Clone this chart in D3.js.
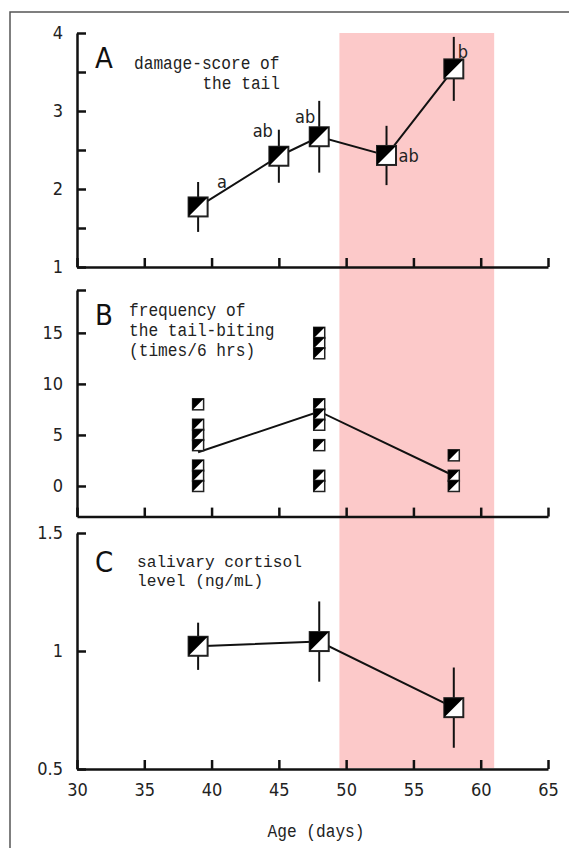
<!DOCTYPE html>
<meta charset="utf-8">
<style>
  body { margin: 0; background: #fff; }
  .tick text, .num { font-family: "Liberation Sans Narrow", "DejaVu Sans Condensed", sans-serif; font-size: 18px; fill: #222; }
  .mono { font-family: "Liberation Mono", "DejaVu Sans Mono", monospace; font-size: 18px; fill: #222; }
  .mono.tight { font-size: 16px; }
  .panel { font-family: "Liberation Sans Narrow", "DejaVu Sans Condensed", sans-serif; font-size: 29px; fill: #111; }
  .axis path, .axis line { stroke: #111; stroke-width: 2.5; fill: none; }
</style>
<body>
<script src="https://d3js.org/d3.v7.min.js"></script>
<script>
  // panel A: damage score of the tail
  var damageDays = [39, 45, 48, 53, 58]
  var damageMean = [1.77, 2.42, 2.67, 2.43, 3.54]
  var damageErr = [0.32, 0.34, 0.46, 0.38, 0.41]
  var damageLetters = ["a", "ab", "ab", "ab", "b"]

  // panel B: tail-biting counts (times / 6 hrs)
  var bitingDays = [39, 48, 58]
  var bitingCounts = [[8, 6, 5, 4, 2, 1, 0], [15, 14, 13, 8, 7, 6, 4, 1, 0], [3, 1, 0]]
  var bitingMean = [3.3, 7.3, 1.0]

  // panel C: salivary cortisol (ng/mL)
  var cortDays = [39, 48, 58]
  var cortMean = [1.02, 1.04, 0.76]
  var cortErr = [0.10, 0.17, 0.17]

  var xTicks = [30, 35, 40, 45, 50, 55, 60, 65]
  var shadeDays = [49.5, 61]

  var width = 569, height = 848
  var charW = 9.7

  var svg = d3.select("body").append("svg")
    .attr("width", width)
    .attr("height", height)

  // outer frame
  svg.append("rect")
    .attr("x", 10).attr("y", 12)
    .attr("width", 580).attr("height", 860)
    .attr("fill", "none").attr("stroke", "#555").attr("stroke-width", 1.5)

  var x = d3.scaleLinear().domain([30, 65]).range([77, 548])

  var yA = d3.scaleLinear().domain([1, 4]).range([267, 33])
  var yB = d3.scaleLinear().domain([-3, 19.2]).range([516.6, 290])
  var yC = d3.scaleLinear().domain([0.5, 1.5]).range([769, 533])

  // pink window
  svg.append("rect")
    .attr("x", x(shadeDays[0]))
    .attr("y", yA(4))
    .attr("width", x(shadeDays[1]) - x(shadeDays[0]))
    .attr("height", yC(0.5) - yA(4) - 1)
    .attr("fill", "#fcc9c9")

  function drawAxes(y, yTicks, yFmt, showX) {
    svg.append("g")
      .attr("class", "axis")
      .attr("transform", "translate(0," + y.range()[0] + ")")
      .call(d3.axisBottom(x).tickValues(xTicks).tickSizeInner(-9).tickSizeOuter(0)
        .tickPadding(14).tickFormat(showX ? d3.format("d") : ""))
    svg.append("g")
      .attr("class", "axis")
      .attr("transform", "translate(" + x(30) + ",0)")
      .call(d3.axisLeft(y).tickValues(yTicks).tickSizeInner(-9).tickSizeOuter(0)
        .tickPadding(14).tickFormat(yFmt))
  }

  drawAxes(yA, [1, 1.5, 2, 2.5, 3, 3.5, 4], function (d) { return d % 1 === 0 ? d : "" }, false)
  drawAxes(yB, [0, 5, 10, 15, 19.2], function (d) { return d % 5 === 0 ? d : "" }, false)
  drawAxes(yC, [0.5, 1, 1.5], function (d) { return d === 1 ? "1" : d3.format(".1f")(d) }, true)

  d3.selectAll(".axis").attr("font-family", null).attr("font-size", null)

  var line = d3.line()

  // square marker: white box, black upper-left half
  function marker(g, cx, cy, s, sw) {
    var h = s / 2
    g.append("rect")
      .attr("x", cx - h).attr("y", cy - h)
      .attr("width", s).attr("height", s)
      .attr("fill", "#fff").attr("stroke", "#222").attr("stroke-width", sw)
    g.append("path")
      .attr("d", "M" + (cx - h) + "," + (cy - h) + "H" + (cx + h) + "L" + (cx - h) + "," + (cy + h) + "Z")
      .attr("fill", "#000")
  }

  function meanPanel(days, means, errs, y) {
    var g = svg.append("g")
    days.forEach(function (d, i) {
      g.append("line")
        .attr("x1", x(d)).attr("x2", x(d))
        .attr("y1", y(means[i] + errs[i])).attr("y2", y(means[i] - errs[i]))
        .attr("stroke", "#111").attr("stroke-width", 2)
    })
    g.append("path")
      .attr("d", line(days.map(function (d, i) { return [x(d), y(means[i])] })))
      .attr("fill", "none").attr("stroke", "#111").attr("stroke-width", 2)
    days.forEach(function (d, i) { marker(g, x(d), y(means[i]), 19, 2) })
  }

  meanPanel(damageDays, damageMean, damageErr, yA)
  meanPanel(cortDays, cortMean, cortErr, yC)

  // letters for panel A
  var letterPos = [
    { dx: 19, dy: -19, anchor: "start" },
    { dx: -6, dy: -19, anchor: "end" },
    { dx: -4, dy: -14, anchor: "end" },
    { dx: 12, dy: 7, anchor: "start" },
    { dx: 4, dy: -11, anchor: "start" }
  ]
  damageLetters.forEach(function (t, i) {
    svg.append("text")
      .attr("class", "num")
      .attr("x", x(damageDays[i]) + letterPos[i].dx)
      .attr("y", yA(damageMean[i]) + letterPos[i].dy)
      .attr("text-anchor", letterPos[i].anchor)
      .text(t)
  })

  // panel B
  var gB = svg.append("g")
  gB.append("path")
    .attr("d", line(bitingDays.map(function (d, i) { return [x(d), yB(bitingMean[i])] })))
    .attr("fill", "none").attr("stroke", "#111").attr("stroke-width", 2)
  bitingDays.forEach(function (d, i) {
    bitingCounts[i].forEach(function (v) { marker(gB, x(d), yB(v), 11, 1.5) })
  })

  // panel letters and titles
  svg.append("text").attr("class", "panel").attr("x", 95).attr("y", 68).text("A")
  svg.append("text").attr("class", "panel").attr("x", 95).attr("y", 325).text("B")
  svg.append("text").attr("class", "panel").attr("x", 95).attr("y", 572).text("C")

  function monoText(t, x0, y0, anchor, cls) {
    return svg.append("text").attr("class", "mono" + (cls ? " " + cls : ""))
      .attr("x", x0).attr("y", y0)
      .attr("text-anchor", anchor || "start")
      .attr("textLength", t.length * charW)
      .attr("lengthAdjust", "spacingAndGlyphs")
      .style("white-space", "pre")
      .text(t)
  }

  monoText("damage-score of", 134, 69)
  monoText("the tail", 280, 89, "end")
  monoText("frequency of", 129, 316)
  monoText("the tail-biting", 129, 336)
  monoText("(times/6 hrs)", 129, 356)
  monoText("salivary cortisol", 137, 567, "start", "tight")
  monoText("level (ng/mL)", 137, 586, "start", "tight")
  monoText("Age (days)", 316, 837, "middle")
</script>
</body>
